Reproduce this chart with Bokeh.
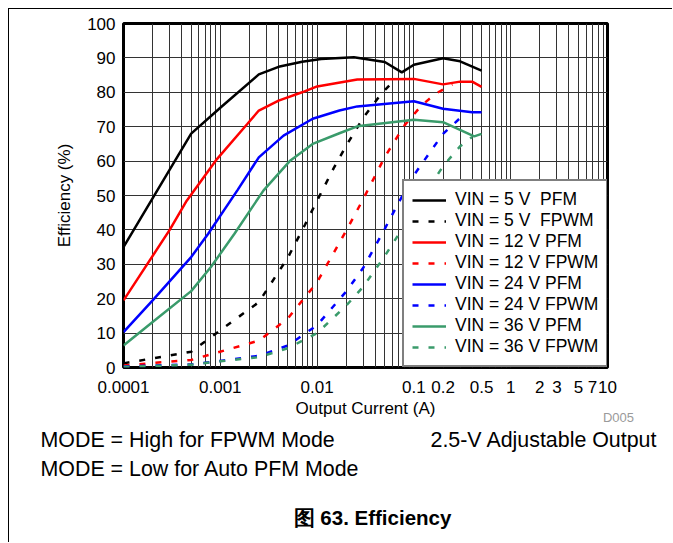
from bokeh.plotting import figure
from bokeh.layouts import column
from bokeh.models import (FixedTicker, CustomJSTickFormatter, Legend, LegendItem, Label)
from bokeh.embed import file_html
from bokeh.resources import INLINE

# ---------------- data ----------------
pfm5_x = [0.0001, 0.0005, 0.001, 0.0025, 0.004, 0.007, 0.011, 0.024, 0.05, 0.075, 0.1, 0.2, 0.3, 0.5]
pfm5_y = [35.0, 68.0, 75.5, 85.2, 87.4, 88.9, 89.7, 90.2, 88.8, 85.8, 88.0, 89.9, 89.0, 86.3]

fpwm5_x = [0.0001, 0.0005, 0.0025, 0.005, 0.0075, 0.01, 0.015, 0.02, 0.03, 0.045, 0.065]
fpwm5_y = [1.2, 4.6, 19.0, 32.0, 41.5, 48.5, 58.2, 64.5, 72.6, 79.2, 84.0]

pfm12_x = [0.0001, 0.0003, 0.00045, 0.0009, 0.0019, 0.0025, 0.004, 0.007, 0.01, 0.026, 0.1, 0.2, 0.3, 0.4, 0.5]
pfm12_y = [19.5, 40.0, 48.5, 60.2, 70.8, 74.7, 77.6, 80.0, 81.7, 83.7, 83.9, 82.3, 83.1, 83.1, 81.6]

fpwm12_x = [0.0001, 0.0005, 0.0025, 0.005, 0.01, 0.02, 0.03, 0.05, 0.08, 0.12, 0.17, 0.25]
fpwm12_y = [0.6, 2.2, 7.8, 14.3, 24.8, 39.8, 49.0, 61.2, 70.4, 76.2, 79.7, 82.3]

pfm24_x = [0.0001, 0.0002, 0.0005, 0.00075, 0.0015, 0.0025, 0.0045, 0.009, 0.017, 0.026, 0.1, 0.2, 0.4, 0.5]
pfm24_y = [10.3, 19.5, 32.1, 38.9, 51.5, 61.1, 67.4, 72.3, 74.7, 75.9, 77.4, 75.2, 74.2, 74.2]

fpwm24_x = [0.0001, 0.0005, 0.001, 0.0025, 0.005, 0.01, 0.02, 0.03, 0.05, 0.07, 0.1, 0.15, 0.2, 0.3]
fpwm24_y = [0.3, 0.9, 1.9, 3.4, 6.4, 12.3, 22.1, 29.0, 40.3, 48.1, 55.9, 63.0, 67.9, 72.5]

pfm36_x = [0.0001, 0.0002, 0.0005, 0.0008, 0.0014, 0.0028, 0.0053, 0.009, 0.017, 0.026, 0.1, 0.2, 0.42, 0.5]
pfm36_y = [6.4, 13.2, 22.2, 29.2, 38.9, 51.5, 60.2, 65.0, 68.1, 70.1, 72.0, 71.3, 67.2, 67.9]

fpwm36_x = [0.0001, 0.0005, 0.001, 0.0025, 0.005, 0.01, 0.02, 0.03, 0.05, 0.1, 0.15, 0.2, 0.3, 0.4]
fpwm36_y = [0.2, 0.8, 1.8, 3.0, 5.6, 10.0, 18.0, 23.5, 32.4, 45.6, 53.2, 58.5, 64.3, 67.0]

series_labels = ["VIN = 5 V\u00a0 PFM", "VIN = 5 V\u00a0 FPWM", "VIN = 12 V PFM", "VIN = 12 V FPWM",
                 "VIN = 24 V PFM", "VIN = 24 V FPWM", "VIN = 36 V PFM", "VIN = 36 V FPWM"]

x_tick_values = [0.0001, 0.001, 0.01, 0.1, 0.2, 0.5, 1, 2, 3, 5, 7, 10]
y_tick_values = [0, 10, 20, 30, 40, 50, 60, 70, 80, 90, 100]
x_grid_values = [m * d for d in [0.0001, 0.001, 0.01, 0.1, 1] for m in range(1, 10)] + [10]

x_title = "Output Current (A)"
y_title = "Efficiency (%)"

# ---------------- figure ----------------
FONT = "Liberation Sans"
p = figure(width=663, height=533, x_axis_type="log", x_range=(0.0001, 10), y_range=(0, 100),
           output_backend="svg", toolbar_location=None,
           min_border_left=114, min_border_right=65, min_border_top=14, min_border_bottom=175)
p.background_fill_color = "white"
p.border_fill_color = "white"
p.outline_line_color = "black"
p.outline_line_width = 3

# grids
p.xgrid.ticker = FixedTicker(ticks=x_grid_values)
p.xgrid.grid_line_color = "#333333"
p.xgrid.grid_line_width = 1
p.ygrid.ticker = FixedTicker(ticks=y_tick_values)
p.ygrid.grid_line_color = "#333333"
p.ygrid.grid_line_width = 1

# axes
xa = p.xaxis[0]
xa.ticker = FixedTicker(ticks=x_tick_values)
xa.formatter = CustomJSTickFormatter(code="return tick.toString();")
ya = p.yaxis[0]
ya.ticker = FixedTicker(ticks=y_tick_values)
for ax in (xa, ya):
    ax.axis_line_color = None
    ax.major_tick_line_color = None
    ax.minor_tick_line_color = None
    ax.major_tick_out = 0
    ax.major_tick_in = 0
    ax.minor_tick_out = 0
    ax.minor_tick_in = 0
    ax.major_label_text_font = FONT
    ax.major_label_text_font_size = "17px"
    ax.major_label_text_color = "black"
    ax.axis_label_text_font = FONT
    ax.axis_label_text_font_size = "17px"
    ax.axis_label_text_font_style = "normal"
    ax.axis_label_text_color = "black"
xa.axis_label = x_title
ya.axis_label = y_title
xa.major_label_standoff = 13
xa.axis_label_standoff = 3
ya.major_label_standoff = 8
ya.axis_label_standoff = 10

# ---------------- lines ----------------
GREEN = "#3a9b6b"
DASH = "6 10"
specs = [
    (pfm5_x, pfm5_y, "black", "solid"),
    (fpwm5_x, fpwm5_y, "black", DASH),
    (pfm12_x, pfm12_y, "red", "solid"),
    (fpwm12_x, fpwm12_y, "red", DASH),
    (pfm24_x, pfm24_y, "blue", "solid"),
    (fpwm24_x, fpwm24_y, "blue", DASH),
    (pfm36_x, pfm36_y, GREEN, "solid"),
    (fpwm36_x, fpwm36_y, GREEN, DASH),
]
items = []
for (xs, ys, col, dash), lab in zip(specs, series_labels):
    r = p.line(xs, ys, line_color=col, line_width=2.5, line_dash=dash)
    items.append(LegendItem(label=lab, renderers=[r]))

legend = Legend(items=items, location=(279, 0))
legend.label_text_font = FONT
legend.label_text_font_size = "17.5px"
legend.label_text_color = "black"
legend.glyph_width = 34
legend.glyph_height = 20
legend.label_height = 20
legend.label_standoff = 9
legend.spacing = 0
legend.padding = 8
legend.margin = 0
legend.border_line_color = "black"
legend.border_line_width = 2.5
legend.background_fill_color = "white"
legend.background_fill_alpha = 1
p.add_layout(legend, "center")

# ---------------- texts (in the bottom side panel, canvas pixel positions) ----------------
def add_label(x, y, text, size, align="left", style="normal", color="black"):
    p.add_layout(Label(x=x, y=y, x_units="canvas", y_units="canvas", text=text,
                       text_font=FONT, text_font_size=size,
                       text_font_style=style, text_color=color, text_align=align,
                       text_baseline="middle"), "below")

add_label(609, 408, "D005", "13px", align="center", color="#9a9a9a")
add_label(31, 430, "MODE = High for FPWM Mode", "21.4px")
add_label(421, 430, "2.5-V Adjustable Output", "21.4px")
add_label(31, 459, "MODE = Low for Auto PFM Mode", "21.4px")
add_label(363, 508, "图 63. Efficiency", "20.5px", align="center", style="bold")

page = column(p, styles={"margin-left": "8px", "margin-top": "8px",
                         "border-top": "1px solid black", "border-left": "1px solid black"})

open("out.html", "w").write(file_html(page, INLINE))
